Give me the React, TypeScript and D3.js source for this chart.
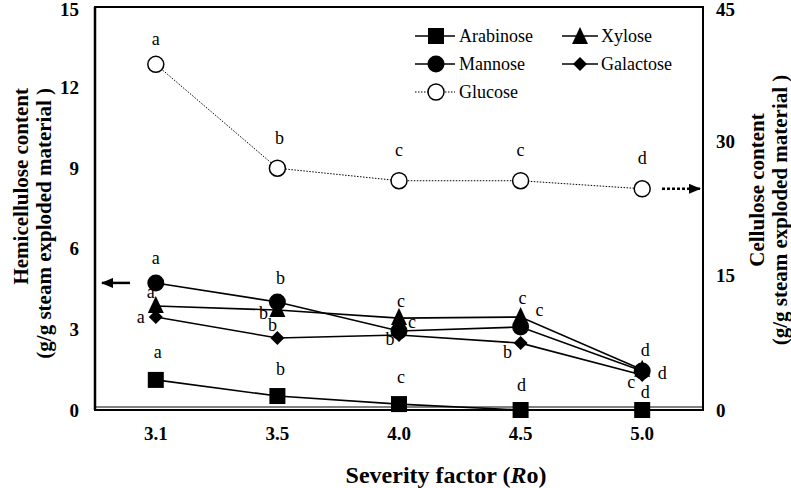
import React from "react";
import * as d3 from "d3";

const categories = ["3.1", "3.5", "4.0", "4.5", "5.0"];
const arabinose = [1.12, 0.52, 0.22, 0, 0];
const xylose = [3.87, 3.72, 3.42, 3.46, 1.5];
const mannose = [4.73, 4.02, 2.94, 3.09, 1.45];
const galactose = [3.46, 2.68, 2.79, 2.49, 1.3];
const glucose = [38.6, 27.0, 25.6, 25.6, 24.7];

const leftTicks = [0, 3, 6, 9, 12, 15];
const rightTicks = [0, 15, 30, 45];

const arabinoseLetters = ["a", "b", "c", "d", "d"];
const xyloseLetters = ["a", "b", "c", "c", "d"];
const mannoseLetters = ["a", "b", "c", "c", "d"];
const galactoseLetters = ["a", "b", "b", "b", "c"];
const glucoseLetters = ["a", "b", "c", "c", "d"];

// letter offsets (style) relative to point
const arabOff = [[2, -28], [3, -27], [2, -27], [1, -25], [3, -18]];
const xyOff = [[-5, -14], [-14, 3], [2, -17], [2, -19], [20, 3]];
const manOff = [[0, -25], [3, -24], [13, -9], [19, -17], [3, -21]];
const galOff = [[-15, 0], [-5, -13], [-9, 4], [-13, 9], [-11, 7]];
const gluOff = [[0, -26], [2, -31], [0, -31], [0, -31], [0, -31]];

const W = 791, H = 488;
const L = 95, R = 703, T = 7, B = 410;
const FONT = '"Liberation Serif"';

export default function App() {
  const x = d3.scalePoint<string>().domain(categories).range([L, R]).padding(0.5);
  const yL = d3.scaleLinear().domain([0, 15]).range([B, T]);
  const yR = d3.scaleLinear().domain([0, 45]).range([B, T]);

  const lineL = d3.line<number>().x((_, i) => x(categories[i])!).y((d) => yL(d));
  const lineR = d3.line<number>().x((_, i) => x(categories[i])!).y((d) => yR(d));

  const sq = (cx: number, cy: number, k: string) => (
    <rect key={k} x={cx - 8} y={cy - 8} width={16} height={16} fill="#000" />
  );
  const tri = (cx: number, cy: number, k: string) => (
    <path key={k} d={`M${cx},${cy - 10} L${cx + 8},${cy + 7} L${cx - 8},${cy + 7} Z`} fill="#000" />
  );
  const circ = (cx: number, cy: number, k: string) => (
    <circle key={k} cx={cx} cy={cy} r={8.5} fill="#000" />
  );
  const dia = (cx: number, cy: number, k: string) => (
    <path key={k} d={`M${cx},${cy - 7} L${cx + 7},${cy} L${cx},${cy + 7} L${cx - 7},${cy} Z`} fill="#000" />
  );
  const ocirc = (cx: number, cy: number, k: string) => (
    <circle key={k} cx={cx} cy={cy} r={8} fill="#fff" stroke="#000" strokeWidth={1.5} />
  );

  const txt = { fontFamily: FONT } as React.CSSProperties;

  const letters = (vals: number[], lets: string[], off: number[][], sc: (v: number) => number, k: string) =>
    vals.map((v, i) => (
      <text
        key={k + i}
        x={x(categories[i])! + off[i][0]}
        y={sc(v) + off[i][1]}
        dy="0.35em"
        textAnchor="middle"
        style={txt}
        fontSize={18}
      >
        {lets[i]}
      </text>
    ));

  const series = [
    { vals: arabinose, m: sq, k: "ar" },
    { vals: mannose, m: circ, k: "ma" },
    { vals: xylose, m: tri, k: "xy" },
    { vals: galactose, m: dia, k: "ga" },
  ];

  return (
    <svg width={W} height={H} style={{ position: "absolute", left: 0, top: 0, background: "#fff", fontFamily: FONT }}>
      <defs>
        <marker id="ah2" markerWidth="12" markerHeight="10" refX="11" refY="5" orient="auto" markerUnits="userSpaceOnUse">
          <path d="M0,0 L12,5 L0,10 Z" fill="#000" />
        </marker>
      </defs>
      <rect x={0} y={0} width={W} height={H} fill="#fff" />
      {/* frame */}
      <rect x={L} y={T} width={R - L} height={B - T} fill="none" stroke="#000" strokeWidth={2} />
      <line x1={L} x2={L} y1={T} y2={B} stroke="#000" strokeWidth={2.5} />
      <line x1={L} x2={R} y1={B - 3} y2={B - 3} stroke="#000" strokeWidth={1} />
      <line x1={L} x2={R} y1={B} y2={B} stroke="#000" strokeWidth={1.5} />

      {/* ticks */}
      {leftTicks.map((t) => (
        <text key={"l" + t} x={79} y={Math.max(yL(t), 9)} dy="0.35em" textAnchor="end" style={txt} fontWeight="bold" fontSize={19}>
          {t}
        </text>
      ))}
      {rightTicks.map((t) => (
        <text key={"r" + t} x={716} y={Math.max(yR(t), 9)} dy="0.35em" textAnchor="start" style={txt} fontWeight="bold" fontSize={19}>
          {t}
        </text>
      ))}
      {categories.map((c) => (
        <text key={"x" + c} x={x(c)!} y={433} dy="0.35em" textAnchor="middle" style={txt} fontWeight="bold" fontSize={19}>
          {c}
        </text>
      ))}

      {/* axis titles */}
      <text x={446} y={475} dy="0.35em" textAnchor="middle" style={txt} fontWeight="bold" fontSize={24}>
        Severity factor (<tspan fontStyle="italic">R</tspan>o)
      </text>
      <text transform="translate(21,88) rotate(-90)" dy="0.35em" textAnchor="end" style={txt} fontWeight="bold" fontSize={21}>
        Hemicellulose content
      </text>
      <text transform="translate(44,88) rotate(-90)" dy="0.35em" textAnchor="end" style={txt} fontWeight="bold" fontSize={21}>
        (g/g steam exploded material )
      </text>
      <text transform="translate(757,190) rotate(-90)" dy="0.35em" textAnchor="middle" style={txt} fontWeight="bold" fontSize={21}>
        Cellulose content
      </text>
      <text transform="translate(780,210) rotate(-90)" dy="0.35em" textAnchor="middle" style={txt} fontWeight="bold" fontSize={21}>
        (g/g steam exploded material )
      </text>

      {/* arrows */}
      <line x1={130} x2={102} y1={yL(mannose[0])} y2={yL(mannose[0])} stroke="#000" strokeWidth={2.5} markerEnd="url(#ah2)" />
      <line x1={662} x2={700} y1={yR(glucose[4])} y2={yR(glucose[4])} stroke="#000" strokeWidth={2.5} strokeDasharray="3,2" markerEnd="url(#ah2)" />

      {/* glucose */}
      <path d={lineR(glucose)!} fill="none" stroke="#000" strokeWidth={1} strokeDasharray="1.5,1.5" />
      {glucose.map((v, i) => ocirc(x(categories[i])!, yR(v), "gl" + i))}

      {series.map((s) => (
        <path key={"p" + s.k} d={lineL(s.vals)!} fill="none" stroke="#000" strokeWidth={1.6} />
      ))}
      {series.map((s) => s.vals.map((v, i) => s.m(x(categories[i])!, yL(v), s.k + i)))}

      {letters(glucose, glucoseLetters, gluOff, yR, "lg")}
      {letters(arabinose, arabinoseLetters, arabOff, yL, "la")}
      {letters(mannose, mannoseLetters, manOff, yL, "lm")}
      {letters(xylose, xyloseLetters, xyOff, yL, "lx")}
      {letters(galactose, galactoseLetters, galOff, yL, "lga")}

      {/* legend */}
      <g style={txt} fontSize={18}>
        <line x1={415} x2={455} y1={36} y2={36} stroke="#000" strokeWidth={1.6} />
        {sq(436, 36, "lg1")}
        <text x={459} y={36} dy="0.35em">Arabinose</text>
        <line x1={562} x2={598} y1={36} y2={36} stroke="#000" strokeWidth={1.6} />
        {tri(580, 37, "lg2")}
        <text x={601} y={36} dy="0.35em">Xylose</text>
        <line x1={415} x2={455} y1={64} y2={64} stroke="#000" strokeWidth={1.6} />
        {circ(436, 64, "lg3")}
        <text x={459} y={64} dy="0.35em">Mannose</text>
        <line x1={562} x2={598} y1={64} y2={64} stroke="#000" strokeWidth={1.6} />
        {dia(580, 64, "lg4")}
        <text x={601} y={64} dy="0.35em">Galactose</text>
        <line x1={415} x2={455} y1={92} y2={92} stroke="#000" strokeWidth={1} strokeDasharray="1.5,1.5" />
        {ocirc(436, 92, "lg5")}
        <text x={459} y={92} dy="0.35em">Glucose</text>
      </g>
    </svg>
  );
}
